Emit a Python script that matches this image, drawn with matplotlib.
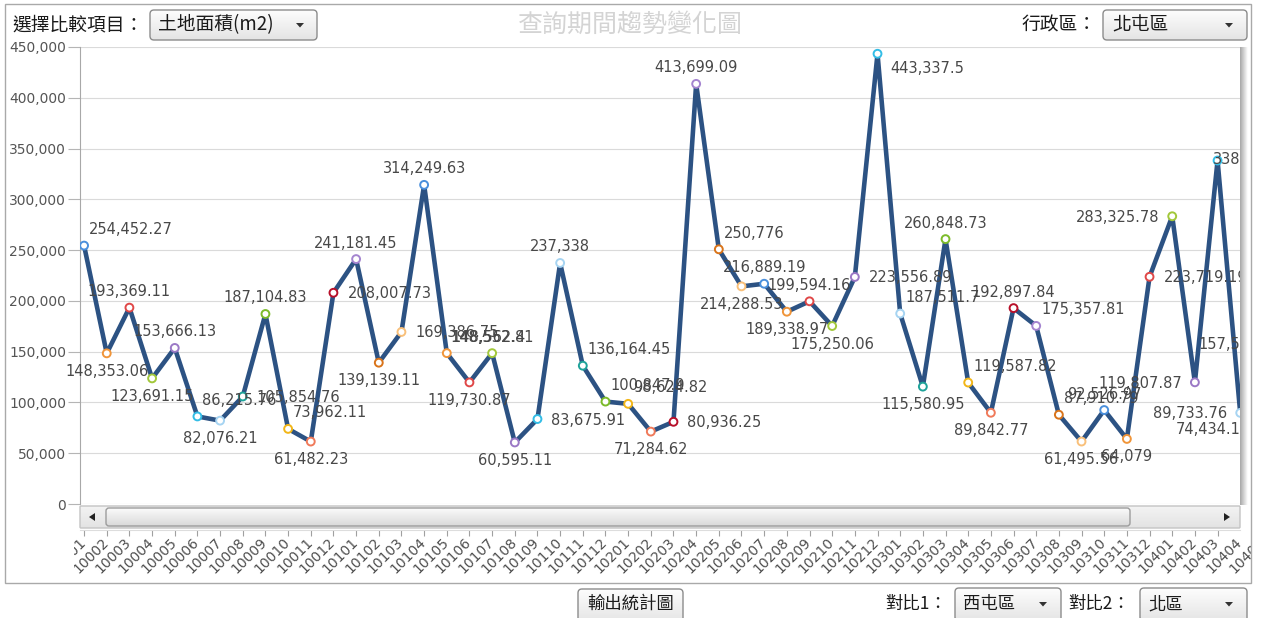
import matplotlib
matplotlib.use('Agg')
import matplotlib.pyplot as plt
import numpy as np
from matplotlib.patches import FancyBboxPatch, Rectangle, Polygon
from matplotlib.colors import LinearSegmentedColormap
from matplotlib.transforms import Bbox, TransformedBbox, blended_transform_factory

# ---------------- data ----------------
periods = ['10001', '10002', '10003', '10004', '10005', '10006', '10007', '10008', '10009', '10010', '10011', '10012',
           '10101', '10102', '10103', '10104', '10105', '10106', '10107', '10108', '10109', '10110', '10111', '10112',
           '10201', '10202', '10203', '10204', '10205', '10206', '10207', '10208', '10209', '10210', '10211', '10212',
           '10301', '10302', '10303', '10304', '10305', '10306', '10307', '10308', '10309', '10310', '10311', '10312',
           '10401', '10402', '10403', '10404', '10405', '10406']
areas = [254452.27, 148353.06, 193369.11, 123691.15, 153666.13, 86215.76, 82076.21, 105854.76, 187104.83, 73962.11, 61482.23, 208007.73,
         241181.45, 139139.11, 169386.75, 314249.63, 148562.4, 119730.87, 148552.81, 60595.11, 83675.91, 237338, 136164.45, 100847.9,
         98624.82, 71284.62, 80936.25, 413699.09, 250776, 214288.53, 216889.19, 189338.97, 199594.16, 175250.06, 223556.89, 443337.5,
         187511.7, 115580.95, 260848.73, 119587.82, 89842.77, 192897.84, 175357.81, 87910.79, 61495.56, 92526.97, 64079, 223719.19,
         283325.78, 119807.87, 338215.37, 89733.76, 74434.18, 157576.4]
y_ticks = [0, 50000, 100000, 150000, 200000, 250000, 300000, 350000, 400000, 450000]

# label placement codes (style only)
label_pos = ['ra', 'b', 'a', 'b', 'a', 'ra', 'b', 'r', 'a', 'ra', 'b', 'r',
             'a', 'b', 'r', 'a', 'ra', 'b', 'a', 'b', 'r', 'a', 'ra', 'ra',
             'ra', 'b', 'r', 'a', 'ra', 'b', 'a', 'b', 'a', 'b', 'r', 'rb',
             'ra', 'b', 'a', 'ra', 'b', 'a', 'ra', 'ra', 'b', 'a', 'b', 'r',
             'l', 'l', 'c', 'l', 'l', 'l']
offsets = {'a': (0, 16, 'center'), 'b': (0, -18, 'center'), 'r': (14, -1, 'left'),
           'ra': (5, 16, 'left'), 'rb': (13, -15, 'left'), 'l': (-13, -1, 'right'),
           'c': (-5, 1, 'left')}
palette = ['#4a8fdc', '#f0953a', '#e04848', '#a2c83a', '#9b79c6', '#33bde6', '#a6d4f2', '#1fa39a',
           '#7cbb2a', '#f2b618', '#f07a5a', '#b8102a', '#a585d0', '#d9741a', '#f9c07a']

W, H = 1272, 618
fig = plt.figure(figsize=(W / 100, H / 100), dpi=100)
fig.patch.set_facecolor('white')
cjk = ['Noto Sans CJK TC', 'DejaVu Sans']

# ---------------- main plot ----------------
ax = fig.add_axes([80 / W, 1 - 504 / H, 1160 / W, 457 / H])
ax.set_facecolor('white')
x = np.arange(len(periods))
ax.plot(x, areas, color='#2c5283', lw=3.3, zorder=3, solid_joinstyle='round')
ax.scatter(x, areas, s=32, facecolor='white', edgecolors=[palette[i % len(palette)] for i in x],
           linewidths=1.4, zorder=4)
ax.set_xlim(-0.18, 50.99)
ax.set_ylim(0, 450000)
ax.set_yticks(y_ticks)
ax.set_yticklabels([f"{v:,}" for v in y_ticks])
ax.tick_params(axis='y', length=9, color='#b5b5b5', labelcolor='#555555', labelsize=10, pad=1)
ax.tick_params(axis='x', bottom=False, labelbottom=False)
ax.grid(axis='y', color='#dadada', lw=0.8)
ax.set_axisbelow(True)
for s in ['top', 'right', 'bottom']:
    ax.spines[s].set_visible(False)
ax.spines['left'].set_color('#a8a8a8')

clip_data = TransformedBbox(Bbox.from_extents(62 / W, 0, 1240 / W, 1), fig.transFigure)


def fmt(v):
    return f"{v:,.2f}".rstrip('0').rstrip('.')


for i, (v, code) in enumerate(zip(areas, label_pos)):
    dx, dy, ha = offsets[code]
    a = ax.annotate(fmt(v), xy=(i, v), xytext=(dx, dy), textcoords='offset pixels', ha=ha, va='center',
                    fontsize=10.5, color='#484848', annotation_clip=False, zorder=5)
    a.set_clip_on(True)
    a.set_clip_box(clip_data)

# ---------------- scroll axes with ticks ----------------
ax2 = fig.add_axes([80 / W, 1 - 530 / H, 1160 / W, 24 / H], sharex=ax)
ax2.set_facecolor('none')
ax2.set_xticks(x)
ax2.tick_params(axis='x', direction='out', length=4, color='#a0a0a0', labelbottom=False)
ax2.set_yticks([])
for s in ['top', 'right', 'left']:
    ax2.spines[s].set_visible(False)
ax2.spines['bottom'].set_color('#dddddd')
ax2.set_xlim(-0.18, 50.99)

blend = blended_transform_factory(ax.transData, fig.transFigure)
clip_x = TransformedBbox(Bbox.from_extents(74 / W, 0, 1251 / W, 1), fig.transFigure)
for i, p in enumerate(periods[:53]):
    t = fig.text(i - 0.02, 1 - 540 / H, p, transform=blend, rotation=45, ha='right', va='center',
                 rotation_mode='anchor', fontsize=10, color='#4f4f4f')
    t.set_clip_on(True)
    t.set_clip_box(clip_x)

# ---------------- overlay UI ----------------
ov = fig.add_axes([0, 0, 1, 1], zorder=10)
ov.axis('off')
ov.patch.set_alpha(0)


def grad_box(x0, y0, x1, y1, ctop, cbot, edge, r=3, lw=1.0):
    patch = FancyBboxPatch((x0, y0), x1 - x0, y1 - y0, boxstyle=f"round,pad=0,rounding_size={r}",
                           fc='none', ec=edge, lw=lw, zorder=3)
    ov.add_patch(patch)
    cmap = LinearSegmentedColormap.from_list('g', [ctop, cbot])
    im = ov.imshow(np.linspace(0, 1, 64)[:, None], extent=(x0, x1, y1, y0), cmap=cmap,
                   aspect='auto', origin='upper', zorder=2, interpolation='bilinear')
    im.set_clip_path(patch)


def tri_down(cx, cy, c='#333333'):
    ov.add_patch(Polygon([[cx - 4, cy - 2], [cx + 4, cy - 2], [cx, cy + 2.5]], closed=True, fc=c, ec='none', zorder=4))


# frame
ov.add_patch(Rectangle((5, 4), 1246, 579, fill=False, ec='#a9a9a9', lw=1, zorder=1))

# plot right shadow
sh = LinearSegmentedColormap.from_list('sh', ['#a8a8a8', '#ffffff'])
ov.imshow(np.linspace(0, 1, 16)[None, :], extent=(1240, 1248, 505, 47), cmap=sh, aspect='auto',
          origin='upper', zorder=1)

# header
ov.text(12, 25, '選擇比較項目：', fontsize=13.5, family=cjk, va='center', ha='left', color='#1a1a1a', zorder=5)
grad_box(150, 10, 317, 40, '#fdfdfd', '#e4e4e4', '#8c8c8c', r=4)
ov.text(158, 25, '土地面積(m2)', fontsize=13.5, family=cjk, va='center', ha='left', color='#1a1a1a', zorder=5)
tri_down(300, 25)
ov.text(630, 25, '查詢期間趨勢變化圖', fontsize=18, family=cjk, va='center', ha='center', color='#d4d4d4',
        weight='medium', zorder=5)
ov.text(1022, 25, '行政區：', fontsize=13.5, family=cjk, va='center', ha='left', color='#1a1a1a', zorder=5)
grad_box(1103, 10, 1247, 40, '#fdfdfd', '#e4e4e4', '#8c8c8c', r=4)
ov.text(1112, 25, '北屯區', fontsize=13.5, family=cjk, va='center', ha='left', color='#1a1a1a', zorder=5)
tri_down(1229, 25)

# scrollbar
grad_box(80, 506, 1240, 528, '#f3f3f3', '#e3e3e3', '#c4c4c4', r=1)
grad_box(106, 508, 1130, 526, '#fbfbfb', '#d9d9d9', '#9c9c9c', r=3)
ov.add_patch(Polygon([[89, 517], [95, 513], [95, 521]], closed=True, fc='#222222', ec='none', zorder=4))
ov.add_patch(Polygon([[1230, 517], [1224, 513], [1224, 521]], closed=True, fc='#222222', ec='none', zorder=4))

# bottom controls
grad_box(578, 589, 683, 624, '#fdfdfd', '#e4e4e4', '#8c8c8c', r=4)
ov.text(630.5, 604, '輸出統計圖', fontsize=12.5, family=cjk, va='center', ha='center', color='#1a1a1a', zorder=5)
ov.text(885, 604, '對比1：', fontsize=12.5, family=cjk, va='center', ha='left', color='#1a1a1a', zorder=5)
grad_box(955, 588, 1061, 622, '#fdfdfd', '#e4e4e4', '#8c8c8c', r=4)
ov.text(963, 604, '西屯區', fontsize=12.5, family=cjk, va='center', ha='left', color='#1a1a1a', zorder=5)
tri_down(1043, 604)
ov.text(1068, 604, '對比2：', fontsize=12.5, family=cjk, va='center', ha='left', color='#1a1a1a', zorder=5)
grad_box(1140, 588, 1247, 622, '#fdfdfd', '#e4e4e4', '#8c8c8c', r=4)
ov.text(1148, 604, '北區', fontsize=12.5, family=cjk, va='center', ha='left', color='#1a1a1a', zorder=5)
tri_down(1229, 604)

ov.set_xlim(0, W)
ov.set_ylim(H, 0)

fig.savefig('out.png', dpi=100, facecolor='white')
